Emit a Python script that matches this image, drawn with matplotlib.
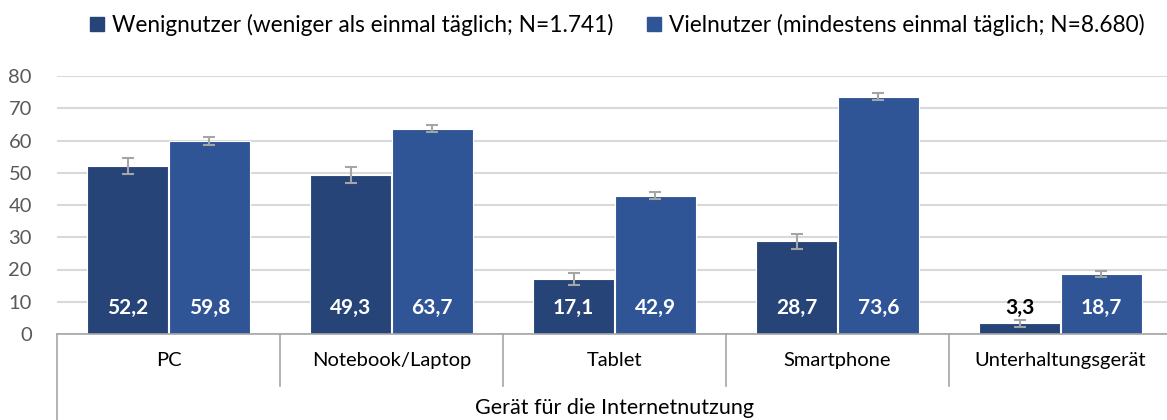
import numpy as np
import matplotlib
matplotlib.use("Agg")
import matplotlib.pyplot as plt
from matplotlib.patches import Patch

plt.rcParams['font.family'] = ['Lato', 'DejaVu Sans']

categories = ["PC", "Notebook/Laptop", "Tablet", "Smartphone", "Unterhaltungsgerät"]
wenig = [52.2, 49.3, 17.1, 28.7, 3.3]
viel = [59.8, 63.7, 42.9, 73.6, 18.7]
wenig_err = [2.45, 2.4, 1.8, 2.2, 1.0]
viel_err = [1.15, 1.15, 1.15, 1.0, 0.95]
series_names = ["Wenignutzer (weniger als einmal täglich; N=1.741)",
                "Vielnutzer (mindestens einmal täglich; N=8.680)"]
yticks = [0, 10, 20, 30, 40, 50, 60, 70, 80]
xlabel = "Gerät für die Internetnutzung"

c_dark = "#264478"
c_light = "#2F5597"
grid_c = "#D9D9D9"
axis_c = "#A6A6A6"

fig = plt.figure(figsize=(11.67, 4.2), dpi=100)
ax = fig.add_axes([57 / 1167, 86 / 420, 1115 / 1167, 258 / 420])

x = np.arange(len(categories))
w = 0.363
off = 0.183

ax.bar(x - off, wenig, w, color=c_dark, edgecolor="white", linewidth=0.8, zorder=2)
ax.bar(x + off, viel, w, color=c_light, edgecolor="white", linewidth=0.8, zorder=2)
ax.errorbar(x - off, wenig, yerr=wenig_err, fmt="none", ecolor="#A5A5A5",
            elinewidth=1.5, capsize=4.5, capthick=1.5, zorder=3)
ax.errorbar(x + off, viel, yerr=viel_err, fmt="none", ecolor="#A5A5A5",
            elinewidth=1.5, capsize=4.5, capthick=1.5, zorder=3)

# data labels near the base of the bars
for xs, vals in ((x - off, wenig), (x + off, viel)):
    for xi, v in zip(xs, vals):
        col = "white" if v > 10 else "black"
        ax.text(xi, 8.2, f"{v:.1f}".replace(".", ","), ha="center", va="center",
                fontsize=15, fontweight="bold", color=col, zorder=4)

ax.set_xlim(-0.5, len(categories) - 0.5)
ax.set_ylim(0, 80)
ax.set_yticks(yticks)
ax.tick_params(axis="y", length=0, pad=18, labelsize=14.5, labelcolor="#595959")
ax.yaxis.grid(True, color=grid_c, linewidth=1.5, zorder=0)
ax.set_axisbelow(True)

ax.set_xticks(x)
ax.set_xticklabels(categories, fontsize=14.5, color="black")
ax.tick_params(axis="x", length=0, pad=13)

for s in ("top", "right", "left"):
    ax.spines[s].set_visible(False)
ax.spines["bottom"].set_color(axis_c)
ax.spines["bottom"].set_linewidth(1.2)

# multi-level category axis separators
tr = ax.get_xaxis_transform()
for b in np.arange(-0.5, len(categories), 1.0):
    outer = b in (-0.5, len(categories) - 0.5)
    y_end = -86 / 258 if outer else -52 / 258
    ax.plot([b, b], [0, y_end], color=axis_c, linewidth=1.2, transform=tr,
            clip_on=False)

ax.text(0.5, -74 / 258, xlabel, transform=ax.transAxes, ha="center", va="center",
        fontsize=15.5)

handles = [Patch(color=c_dark), Patch(color=c_light)]
fig.legend(handles, series_names, loc="upper center", bbox_to_anchor=(0.529, 1.015),
           ncol=2, frameon=False, fontsize=16.3, handlelength=0.6, handleheight=0.6,
           handletextpad=0.35, columnspacing=1.5)

fig.savefig("out.png", dpi=100)
